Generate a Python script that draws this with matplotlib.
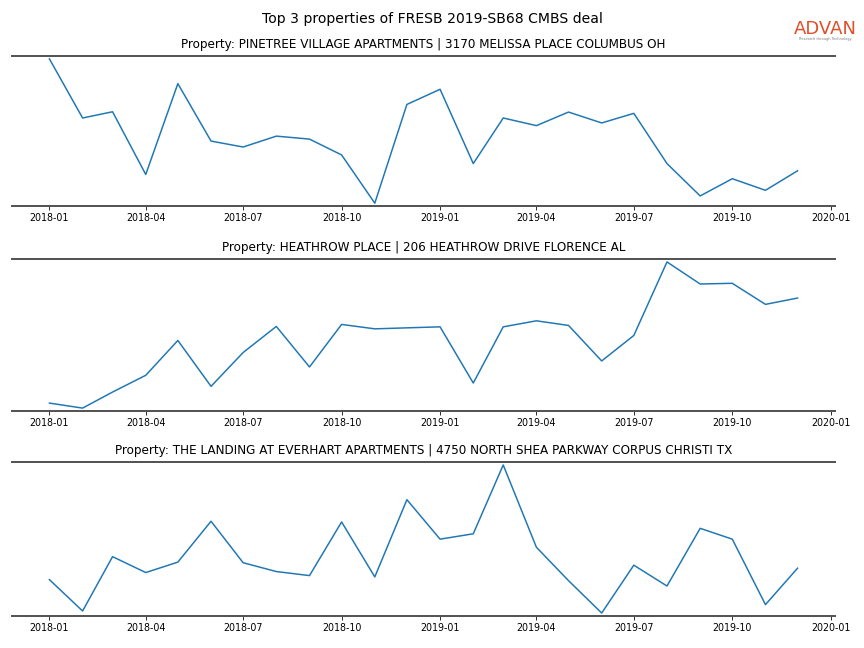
import numpy as np
import pandas as pd
import matplotlib
matplotlib.use("Agg")
import matplotlib.pyplot as plt
import matplotlib.dates as mdates

months = pd.date_range("2018-01-01", "2019-12-01", freq="MS")

titles = [
    "Property: PINETREE VILLAGE APARTMENTS | 3170 MELISSA PLACE COLUMBUS OH",
    "Property: HEATHROW PLACE | 206 HEATHROW DRIVE FLORENCE AL",
    "Property: THE LANDING AT EVERHART APARTMENTS | 4750 NORTH SHEA PARKWAY CORPUS CHRISTI TX",
]

# relative activity index
pinetree = [147.7, 88.0, 94.3, 31.0, 122.7, 64.7, 58.7, 69.7, 66.7, 50.7, 2.0, 101.7,
            117.0, 42.0, 88.0, 80.3, 94.0, 83.0, 92.7, 42.0, 9.3, 26.7, 15.0, 34.7]
heathrow = [7.3, 2.3, 18.3, 35.0, 69.7, 24.0, 57.7, 83.7, 43.3, 85.7, 81.3, 82.3,
            83.3, 27.3, 83.3, 89.3, 84.7, 49.3, 74.7, 148.0, 126.0, 126.7, 105.7, 112.0]
landing = [36.0, 5.0, 58.7, 43.0, 53.3, 93.7, 52.7, 44.0, 40.0, 93.0, 38.7, 115.0,
           76.0, 81.3, 149.3, 68.0, 35.0, 3.0, 50.3, 29.7, 86.7, 76.0, 11.3, 47.3]
series = [pinetree, heathrow, landing]

fig = plt.figure(figsize=(12, 9), dpi=72)
boxes = [(0.0139, 0.682, 0.9525, 0.2316),
         (0.0139, 0.3657, 0.9525, 0.2346),
         (0.0139, 0.0494, 0.9525, 0.2376)]

for box, title, vals in zip(boxes, titles, series):
    ax = fig.add_axes(box)
    ax.plot(months, vals, color="#1f77b4", lw=1.5)
    ax.margins(y=0.02)
    ax.set_title(title, fontsize=12, pad=8)
    ax.xaxis.set_major_locator(mdates.MonthLocator(bymonth=[1, 4, 7, 10]))
    ax.xaxis.set_major_formatter(mdates.DateFormatter("%Y-%m"))
    ax.tick_params(axis="x", labelsize=9.5)
    ax.set_yticks([])
    for s in ["left", "right"]:
        ax.spines[s].set_visible(False)
    for s in ["top", "bottom"]:
        ax.spines[s].set_color("#555555")
        ax.spines[s].set_linewidth(2)

fig.suptitle("Top 3 properties of FRESB 2019-SB68 CMBS deal", fontsize=14, y=0.982)

# logo
fig.text(0.955, 0.956, "ADVAN", color="#e0502a", fontsize=18, ha="center", va="center")
fig.text(0.955, 0.94, "Research through Technology", color="#777777", fontsize=3.5,
         ha="center", va="center")

plt.savefig("out.png", dpi=72)
